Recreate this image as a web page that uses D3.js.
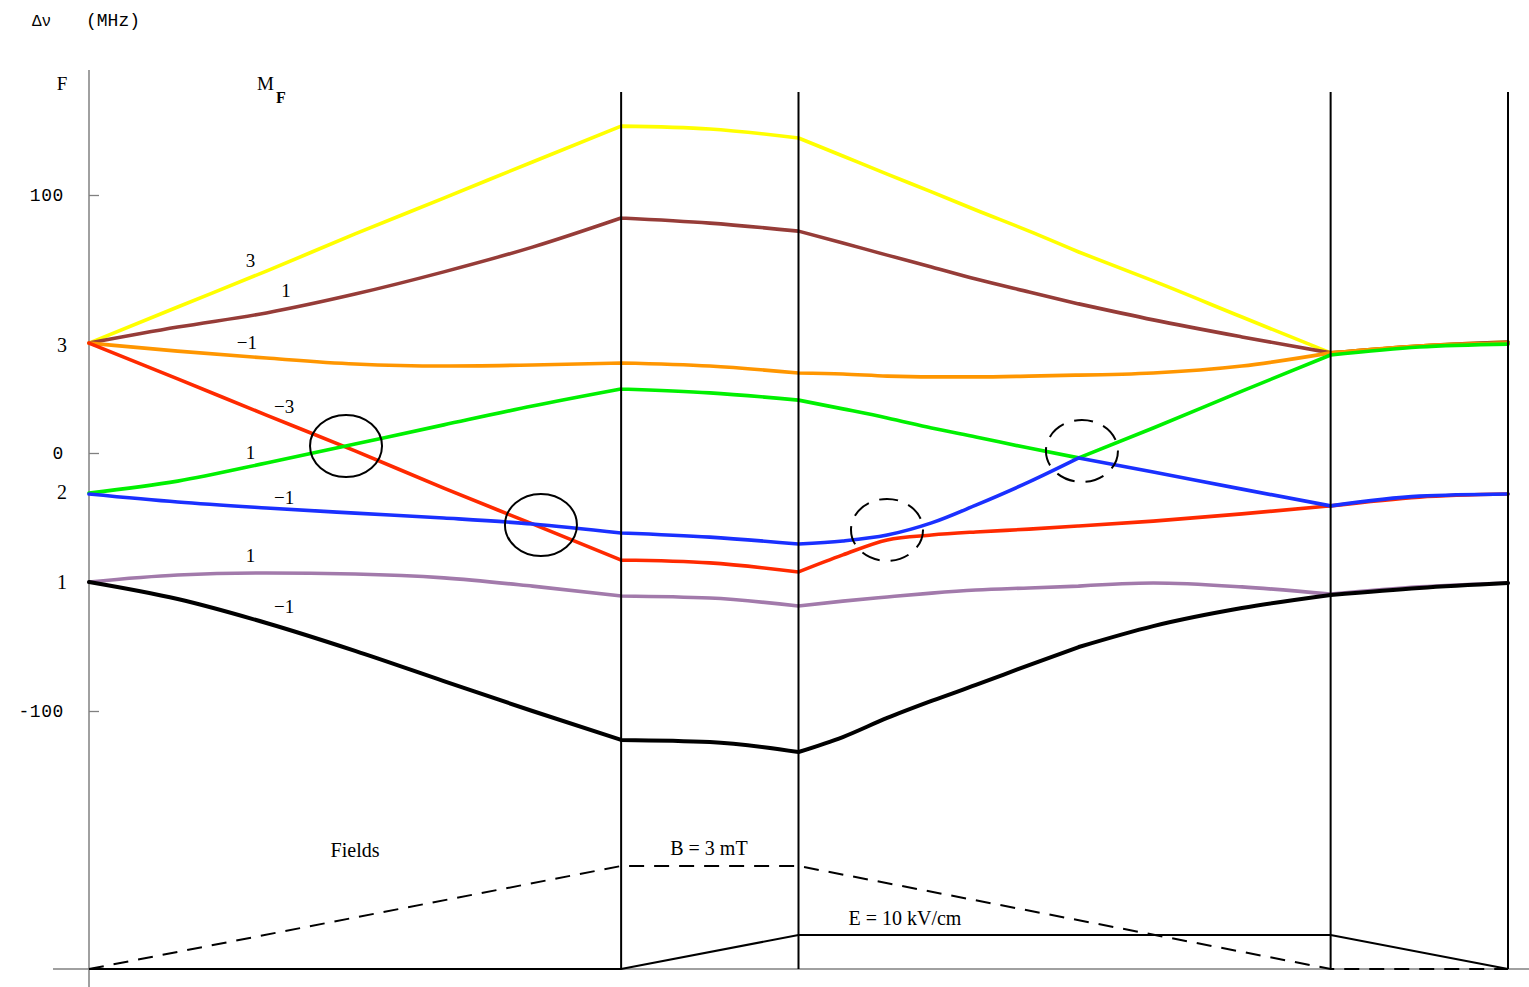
<!DOCTYPE html>
<html>
<head>
<meta charset="utf-8">
<script src="https://cdn.jsdelivr.net/npm/d3@7"></script>
<style>
  html, body { margin: 0; padding: 0; background: #fff; }
  svg { display: block; }
</style>
</head>
<body>
<div id="chart"></div>
<script>
// ---------- data ----------
// x: stage coordinate (0..8); boundaries at 3, 4, 7, 8
const xs = [0, 0.5, 1, 1.5, 2, 2.5, 3, 3.5, 4, 4.25, 4.5, 4.75, 5, 5.3, 5.58, 6, 6.5, 7, 7.5, 8];

// energy shifts (MHz)
const f3m3  = [42.6, 56.6, 70.5, 84.9, 98.8, 112.8, 126.7, 125.6, 122.1, 115.1, 108.1, 101.2, 94.2, 86.0, 77.9, 66.7, 52.7, 38.8, 41.5, 43.0];
const f3m1  = [42.6, 48.8, 54.3, 61.6, 70.2, 79.8, 91.1, 89.1, 86.0, 81.4, 76.7, 72.1, 67.4, 62.4, 57.8, 51.6, 45.0, 38.8, 41.5, 43.0];
const f3mm1 = [42.6, 39.5, 36.8, 34.5, 33.7, 34.1, 34.9, 33.7, 31.0, 30.6, 29.8, 29.5, 29.5, 29.8, 30.2, 31.0, 33.7, 38.8, 41.5, 42.6];
const f3mm3 = [42.6, 28.7, 14.7, 0.8, -13.6, -27.5, -41.5, -42.6, -46.1, -39.5, -33.7, -31.8, -30.6, -29.5, -28.3, -26.4, -23.6, -20.5, -17.1, -15.9];
const f2m1  = [-15.5, -10.9, -3.9, 3.5, 10.9, 18.2, 24.8, 23.3, 20.5, 17.1, 13.6, 9.7, 6.2, 1.9, -1.9, 9.7, 24.0, 38.0, 41.1, 42.2];
const f2mm1 = [-15.9, -19.0, -21.3, -23.3, -25.2, -27.5, -31.0, -32.6, -35.3, -34.1, -31.8, -27.1, -20.2, -11.2, -1.9, -7.4, -14.0, -20.5, -16.7, -15.9];
const f1m1  = [-50.0, -47.3, -46.5, -46.9, -48.4, -51.6, -55.4, -56.2, -59.3, -57.4, -55.8, -54.3, -53.1, -52.3, -51.6, -50.4, -51.9, -54.7, -51.9, -50.4];
const f1mm1 = [-50.0, -56.6, -65.9, -76.7, -88.4, -100.0, -111.2, -112.0, -115.9, -110.1, -102.7, -96.1, -89.9, -82.2, -75.2, -67.1, -60.1, -55.0, -52.3, -50.4];

const seriesNames = ["F3 MF3", "F3 MF1", "F3 MF-1", "F3 MF-3", "F2 MF1", "F2 MF-1", "F1 MF1", "F1 MF-1"];
const seriesValues = [f3m3, f3m1, f3mm1, f3mm3, f2m1, f2mm1, f1m1, f1mm1];
const seriesColors = ["#ffff00", "#963c38", "#ff9600", "#ff2a00", "#00f000", "#1a30ff", "#a27aab", "#000000"];

// points where curves have a kink (field-stage boundaries and the crossing)
const kinks = [3, 4, 5.58, 7];

// M_F labels placed along the curves (x stage, y MHz baseline)
const mfLabels = ["3", "1", "\u22121", "\u22123", "1", "\u22121", "1", "\u22121"];
const mfLabelX = [0.91, 1.11, 0.89, 1.10, 0.91, 1.10, 0.91, 1.10];
const mfLabelY = [72.1, 60.5, 40.3, 15.5, -2.3, -19.8, -42.2, -62.0];

// F labels at the zero-field values
const fLabels = ["3", "2", "1"];
const fLabelY = [42.6 - 3.4, -15.9 - 1.8, -50.0 - 2.7];

// y ticks
const yTicks = [100, 0, -100];

// stage boundaries
const stageBounds = [3, 4, 7, 8];

// crossings (solid) and anticrossings (dashed)
const crossX = [1.449, 2.548];
const crossY = [2.7, -27.9];
const antiX = [4.499, 5.598];
const antiY = [-29.8, 0.8];

// fields
const fieldX = [0, 3, 4, 7, 8];
const bField = [0, 3, 3, 0, 0];      // mT
const eField = [0, 0, 10, 10, 0];    // kV/cm

// ---------- drawing ----------
const W = 1529, H = 987;
const svg = d3.select("#chart").append("svg").attr("width", W).attr("height", H);

const x = d3.scaleLinear().domain([0, 8]).range([89, 1508]);
const y = d3.scaleLinear().domain([-100, 100]).range([711, 195]);
const yB = d3.scaleLinear().domain([0, 3]).range([969, 866]);
const yE = d3.scaleLinear().domain([0, 10]).range([969, 935]);

// fields baseline (gray)
svg.append("line").attr("x1", 53).attr("x2", W).attr("y1", yB(0)).attr("y2", yB(0))
  .attr("stroke", "#808080").attr("stroke-width", 1.5);

// y axis spine
svg.append("line").attr("x1", x(0)).attr("x2", x(0)).attr("y1", 70).attr("y2", H)
  .attr("stroke", "#808080").attr("stroke-width", 1.5);

const yAxis = d3.axisLeft(y).tickValues(yTicks).tickFormat(d => String(d))
  .tickSizeInner(-10).tickSizeOuter(0).tickPadding(25);
const gAx = svg.append("g").attr("transform", `translate(${x(0)},0)`).call(yAxis);
gAx.select(".domain").remove();
gAx.selectAll(".tick line").attr("stroke", "#808080").attr("stroke-width", 1.3);
gAx.selectAll(".tick text").attr("font-family", "Liberation Mono, Courier New, monospace")
  .attr("font-size", 18).attr("letter-spacing", 0.6).attr("fill", "#000").attr("dy", "0.33em");

// title
svg.append("text").attr("x", 32).attr("y", 26).text("\u0394\u03bd")
  .attr("font-family", "Liberation Mono, monospace").attr("font-size", 16);
svg.append("text").attr("x", 86).attr("y", 26).text("(MHz)")
  .attr("font-family", "Liberation Mono, monospace").attr("font-size", 18);

// F and M_F headers
const serif = "Liberation Serif, Times New Roman, serif";
svg.append("text").attr("x", 62).attr("y", 90).attr("text-anchor", "middle").text("F")
  .attr("font-family", serif).attr("font-size", 19);
svg.append("text").attr("x", 257).attr("y", 90).text("M")
  .attr("font-family", serif).attr("font-size", 19);
svg.append("text").attr("x", 281).attr("y", 103).attr("text-anchor", "middle").text("F")
  .attr("font-family", serif).attr("font-size", 16).attr("font-weight", "bold");

// F labels
svg.selectAll("text.flab").data(fLabels).join("text").attr("class", "flab")
  .attr("x", 62).attr("y", (d, i) => y(fLabelY[i])).attr("text-anchor", "middle")
  .attr("font-family", serif).attr("font-size", 20).text(d => d);

// curves: smooth within each stage, kinks at stage boundaries
const seg = d3.line().x(d => x(d[0])).y(d => y(d[1])).curve(d3.curveMonotoneX);
function curvePath(vals) {
  const pts = xs.map((xv, i) => [xv, vals[i]]);
  const cuts = [0, ...kinks, 8];
  let d = "";
  for (let k = 0; k < cuts.length - 1; k++) {
    const part = pts.filter(p => p[0] >= cuts[k] - 1e-9 && p[0] <= cuts[k + 1] + 1e-9);
    d += seg(part);
  }
  return d;
}
svg.append("g").selectAll("path").data(seriesValues).join("path")
  .attr("d", d => curvePath(d)).attr("fill", "none")
  .attr("stroke", (d, i) => seriesColors[i])
  .attr("stroke-width", (d, i) => i === 7 ? 4 : 3.6)
  .attr("stroke-linejoin", "round").attr("stroke-linecap", "round");

// M_F labels
svg.selectAll("text.mflab").data(mfLabels).join("text").attr("class", "mflab")
  .attr("x", (d, i) => x(mfLabelX[i])).attr("y", (d, i) => y(mfLabelY[i]))
  .attr("text-anchor", "middle").attr("font-family", serif).attr("font-size", 19).text(d => d);

// stage boundary lines
svg.selectAll("line.stage").data(stageBounds).join("line").attr("class", "stage")
  .attr("x1", d => x(d)).attr("x2", d => x(d)).attr("y1", 92).attr("y2", yB(0))
  .attr("stroke", "#000").attr("stroke-width", 2);

// crossing ellipses
svg.selectAll("ellipse.cross").data(crossX).join("ellipse").attr("class", "cross")
  .attr("cx", d => x(d)).attr("cy", (d, i) => y(crossY[i])).attr("rx", 36).attr("ry", 31)
  .attr("fill", "none").attr("stroke", "#000").attr("stroke-width", 2);
svg.selectAll("ellipse.anti").data(antiX).join("ellipse").attr("class", "anti")
  .attr("cx", d => x(d)).attr("cy", (d, i) => y(antiY[i])).attr("rx", 36).attr("ry", 31)
  .attr("fill", "none").attr("stroke", "#000").attr("stroke-width", 2)
  .attr("stroke-dasharray", "19,11");

// fields
const bLine = d3.line().x((d, i) => x(fieldX[i])).y(d => yB(d));
const eLine = d3.line().x((d, i) => x(fieldX[i])).y(d => yE(d));
svg.append("path").attr("d", eLine(eField)).attr("fill", "none")
  .attr("stroke", "#000").attr("stroke-width", 2);
svg.append("path").attr("d", bLine(bField)).attr("fill", "none")
  .attr("stroke", "#000").attr("stroke-width", 2).attr("stroke-dasharray", "15,10");

svg.append("text").attr("x", x(1.5)).attr("y", 857).attr("text-anchor", "middle")
  .attr("font-family", serif).attr("font-size", 20).text("Fields");
svg.append("text").attr("x", x(3.495)).attr("y", 855).attr("text-anchor", "middle")
  .attr("font-family", serif).attr("font-size", 20).text("B = 3 mT");
svg.append("text").attr("x", x(4.6)).attr("y", 925).attr("text-anchor", "middle")
  .attr("font-family", serif).attr("font-size", 20).text("E = 10 kV/cm");
</script>
</body>
</html>
